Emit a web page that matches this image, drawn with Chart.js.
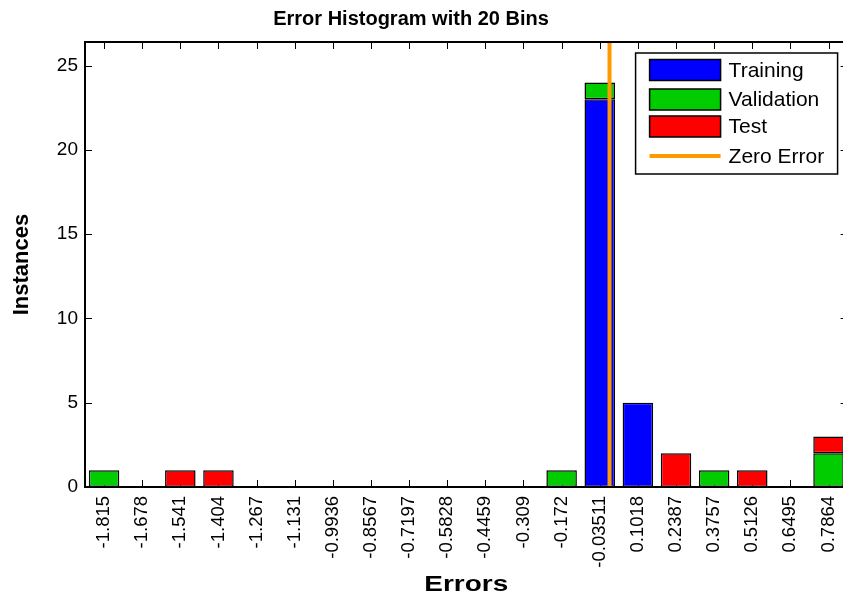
<!DOCTYPE html>
<html>
<head>
<meta charset="utf-8">
<script src="https://cdn.jsdelivr.net/npm/chart.js@4/dist/chart.umd.min.js"></script>
<style>
  html, body { margin: 0; padding: 0; background: #fff; }
  #wrap { width: 843px; height: 600px; overflow: hidden; position: relative; }
  canvas { display: block; }
</style>
</head>
<body>
<div id="wrap"><canvas id="c" width="860" height="600"></canvas></div>
<script>
// ---- data ----
const chartTitle = 'Error Histogram with 20 Bins';
const xAxisTitle = 'Errors';
const yAxisTitle = 'Instances';
const binLabels = ['-1.815','-1.678','-1.541','-1.404','-1.267','-1.131','-0.9936','-0.8567','-0.7197','-0.5828',
                   '-0.4459','-0.309','-0.172','-0.03511','0.1018','0.2387','0.3757','0.5126','0.6495','0.7864'];
const training   = [0,0,0,0,0,0,0,0,0,0,0,0,0,23,5,0,0,0,0,0];
const validation = [1,0,0,0,0,0,0,0,0,0,0,0,1,1,0,0,1,0,0,2];
const test       = [0,0,1,1,0,0,0,0,0,0,0,0,0,0,0,2,0,1,0,1];
const seriesNames = ['Training','Validation','Test'];
const zeroErrorLabel = 'Zero Error';
const zeroErrorValue = 0;
const yTickValues = [0,5,10,15,20,25];
const yMax = 26.4;

const FONT = "'Liberation Sans', Arial, Helvetica, sans-serif";
const COLORS = ['#0000ff', '#00cc00', '#ff0000'];
const ORANGE = '#ff9900';

const boxPlugin = {
  id: 'matlabBox',
  beforeDatasetsDraw(chart) {
    const {ctx, chartArea: a, scales: {x, y}} = chart;
    ctx.save();
    ctx.strokeStyle = '#000';
    ctx.lineWidth = 1;
    const tl = 7;
    ctx.beginPath();
    binLabels.forEach((_, i) => {
      const px = Math.round(x.getPixelForValue(i)) + 0.5;
      ctx.moveTo(px, a.bottom); ctx.lineTo(px, a.bottom - tl);
      ctx.moveTo(px, a.top); ctx.lineTo(px, a.top + tl);
    });
    yTickValues.forEach(v => {
      const py = Math.round(y.getPixelForValue(v)) + 0.5;
      ctx.moveTo(a.left, py); ctx.lineTo(a.left + tl, py);
      ctx.moveTo(a.right, py); ctx.lineTo(a.right - tl, py);
    });
    ctx.stroke();
    ctx.restore();
  },
  afterDatasetsDraw(chart) {
    const {ctx, chartArea: a, scales: {x}} = chart;
    ctx.save();
    // zero error line
    const centers = binLabels.map(Number);
    let i = 0;
    while (i < centers.length - 2 && centers[i + 1] <= zeroErrorValue) i++;
    const p0 = x.getPixelForValue(i), p1 = x.getPixelForValue(i + 1);
    const zx = p0 + (zeroErrorValue - centers[i]) / (centers[i + 1] - centers[i]) * (p1 - p0);
    ctx.strokeStyle = ORANGE;
    ctx.lineWidth = 4;
    ctx.beginPath();
    ctx.moveTo(zx, a.top); ctx.lineTo(zx, a.bottom);
    ctx.stroke();
    // axes box
    ctx.strokeStyle = '#000';
    ctx.lineWidth = 2;
    ctx.strokeRect(a.left, a.top, a.right - a.left, a.bottom - a.top);
    // legend
    const bx = a.right - 212, by = a.top + 11, bw = 202, bh = 121;
    ctx.fillStyle = '#fff';
    ctx.fillRect(bx, by, bw, bh);
    ctx.lineWidth = 1.5;
    ctx.strokeRect(bx, by, bw, bh);
    const rowsY = [by + 17, by + 46.5, by + 73.5, by + 103];
    ctx.font = '21px ' + FONT;
    ctx.textBaseline = 'middle';
    ctx.textAlign = 'left';
    chart.data.datasets.forEach((ds, k) => {
      const cy = rowsY[k];
      ctx.fillStyle = ds.backgroundColor;
      ctx.fillRect(bx + 14, cy - 10.5, 71, 21);
      ctx.lineWidth = 1.5;
      ctx.strokeStyle = '#000';
      ctx.strokeRect(bx + 14, cy - 10.5, 71, 21);
      ctx.fillStyle = '#000';
      ctx.fillText(ds.label, bx + 93, cy + 1);
    });
    const ly = rowsY[3];
    ctx.strokeStyle = ORANGE;
    ctx.lineWidth = 4;
    ctx.beginPath();
    ctx.moveTo(bx + 14, ly); ctx.lineTo(bx + 85, ly);
    ctx.stroke();
    ctx.fillStyle = '#000';
    ctx.fillText(zeroErrorLabel, bx + 93, ly + 1);
    // title
    ctx.font = 'bold 20px ' + FONT;
    ctx.textAlign = 'center';
    ctx.fillText(chartTitle, 411, 19);
    // x axis title (wide-set, as in the reference)
    ctx.font = 'bold 22px ' + FONT;
    ctx.translate((a.left + a.right) / 2, 585);
    ctx.scale(1.27, 1);
    ctx.fillText(xAxisTitle, 0, 0);
    ctx.restore();
  }
};

new Chart(document.getElementById('c'), {
  type: 'bar',
  data: {
    labels: binLabels,
    datasets: [training, validation, test].map((d, k) => ({
      label: seriesNames[k],
      data: d,
      backgroundColor: COLORS[k],
      borderColor: '#000',
      borderWidth: 1.5,
      borderSkipped: false,
      barPercentage: 0.8,
      categoryPercentage: 1.0
    }))
  },
  options: {
    responsive: false,
    animation: false,
    devicePixelRatio: 1,
    layout: { padding: { left: 0, right: 11, top: 42, bottom: 0 } },
    plugins: { legend: { display: false }, title: { display: false }, tooltip: { enabled: false } },
    scales: {
      x: {
        stacked: true,
        grid: { display: false, drawTicks: false },
        border: { display: false },
        ticks: {
          autoSkip: false, maxRotation: 90, minRotation: 90, padding: 9,
          color: '#000', font: { family: FONT, size: 18.5 }
        },
        title: { display: false },
        afterFit(s) { s.height = 113; }
      },
      y: {
        stacked: true,
        min: 0, max: yMax,
        grid: { display: false, drawTicks: false },
        border: { display: false },
        ticks: { stepSize: 5, padding: 7, color: '#000', font: { family: FONT, size: 19 } },
        afterBuildTicks(s) { s.ticks = yTickValues.map(v => ({ value: v })); },
        title: { display: true, text: yAxisTitle, color: '#000',
                 font: { family: FONT, size: 22, weight: 'bold' }, padding: { top: 9, bottom: 0 } },
        afterFit(s) { s.width = 85; }
      }
    }
  },
  plugins: [boxPlugin]
});
</script>
</body>
</html>
